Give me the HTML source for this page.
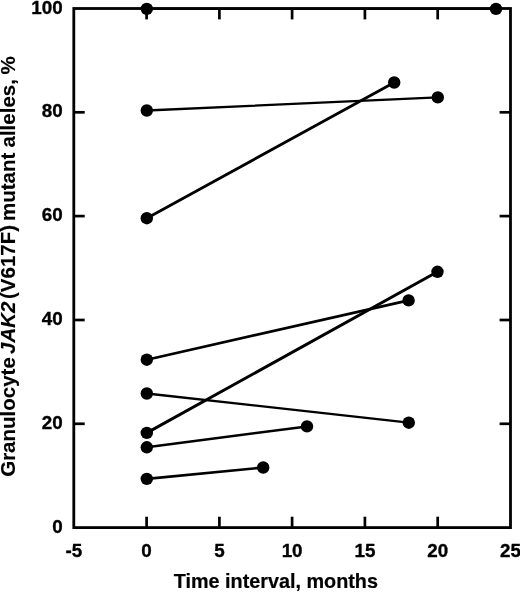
<!DOCTYPE html>
<html lang="en">
<head>
<meta charset="utf-8">
<title>Granulocyte JAK2 (V617F) mutant alleles over time</title>
<style>
html,body{margin:0;padding:0;background:#fff;}
body{width:520px;height:592px;overflow:hidden;}
svg{display:block;}
text{font-family:"Liberation Sans",Arial,Helvetica,sans-serif;font-weight:bold;font-size:18.8px;fill:#000;stroke:#000;stroke-width:0.35;stroke-linejoin:round;}
.ax{stroke:#000;stroke-width:2.8;fill:none;}
.tk{stroke:#000;stroke-width:2.7;fill:none;}
.ln{stroke:#000;fill:none;stroke-linecap:round;}
.pt{fill:#000;}
</style>
</head>
<body>
<svg width="520" height="592" viewBox="0 0 520 592">
<rect x="0" y="0" width="520" height="592" fill="#fff"/>
<rect class="ax" x="73.8" y="8.5" width="436.7" height="519.1"/>
<line class="tk" x1="146.6" y1="527.6" x2="146.6" y2="516.7"/>
<line class="tk" x1="146.6" y1="8.5" x2="146.6" y2="19.4"/>
<line class="tk" x1="219.4" y1="527.6" x2="219.4" y2="516.7"/>
<line class="tk" x1="219.4" y1="8.5" x2="219.4" y2="19.4"/>
<line class="tk" x1="292.1" y1="527.6" x2="292.1" y2="516.7"/>
<line class="tk" x1="292.1" y1="8.5" x2="292.1" y2="19.4"/>
<line class="tk" x1="364.9" y1="527.6" x2="364.9" y2="516.7"/>
<line class="tk" x1="364.9" y1="8.5" x2="364.9" y2="19.4"/>
<line class="tk" x1="437.7" y1="527.6" x2="437.7" y2="516.7"/>
<line class="tk" x1="437.7" y1="8.5" x2="437.7" y2="19.4"/>
<line class="tk" x1="73.8" y1="423.8" x2="84.7" y2="423.8"/>
<line class="tk" x1="510.5" y1="423.8" x2="499.6" y2="423.8"/>
<line class="tk" x1="73.8" y1="320.0" x2="84.7" y2="320.0"/>
<line class="tk" x1="510.5" y1="320.0" x2="499.6" y2="320.0"/>
<line class="tk" x1="73.8" y1="216.1" x2="84.7" y2="216.1"/>
<line class="tk" x1="510.5" y1="216.1" x2="499.6" y2="216.1"/>
<line class="tk" x1="73.8" y1="112.3" x2="84.7" y2="112.3"/>
<line class="tk" x1="510.5" y1="112.3" x2="499.6" y2="112.3"/>
<text x="73.8" y="557.2" text-anchor="middle">-5</text>
<text x="146.6" y="557.2" text-anchor="middle">0</text>
<text x="219.4" y="557.2" text-anchor="middle">5</text>
<text x="292.1" y="557.2" text-anchor="middle">10</text>
<text x="364.9" y="557.2" text-anchor="middle">15</text>
<text x="437.7" y="557.2" text-anchor="middle">20</text>
<text x="510.5" y="557.2" text-anchor="middle">25</text>
<text x="62.6" y="532.7" text-anchor="end">0</text>
<text x="62.6" y="428.9" text-anchor="end">20</text>
<text x="62.6" y="325.1" text-anchor="end">40</text>
<text x="62.6" y="221.2" text-anchor="end">60</text>
<text x="62.6" y="117.4" text-anchor="end">80</text>
<text x="62.6" y="13.6" text-anchor="end">100</text>
<text x="173.8" y="587.8" style="font-size:19.8px;stroke-width:0.2">Time interval, months</text>
<text transform="translate(15.3 476.8) rotate(-90)" x="0" y="0" style="font-size:20.5px;stroke-width:0.15">Granulocyte <tspan font-style="italic" dx="-2.4">JAK2</tspan> <tspan dx="-3.2">(V617F)</tspan> <tspan dx="-1.8">mutant</tspan> <tspan dx="-0.5">alleles,</tspan> <tspan dx="-1.2">%</tspan></text>
<line class="ln" stroke-width="2.2" x1="146.8" y1="8.9" x2="496.0" y2="8.9"/>
<line class="ln" stroke-width="2.3" x1="146.8" y1="110.5" x2="437.8" y2="97.4"/>
<line class="ln" stroke-width="2.8" x1="146.8" y1="218.2" x2="394.2" y2="82.5"/>
<line class="ln" stroke-width="2.7" x1="146.8" y1="359.7" x2="408.6" y2="300.4"/>
<line class="ln" stroke-width="3.0" x1="146.8" y1="432.9" x2="437.5" y2="271.8"/>
<line class="ln" stroke-width="2.3" x1="146.8" y1="393.5" x2="408.8" y2="422.7"/>
<line class="ln" stroke-width="2.5" x1="146.8" y1="447.3" x2="307.0" y2="426.4"/>
<line class="ln" stroke-width="2.6" x1="146.8" y1="478.9" x2="263.2" y2="467.5"/>
<circle class="pt" cx="146.8" cy="8.9" r="6.2"/>
<circle class="pt" cx="496.0" cy="8.9" r="6.2"/>
<circle class="pt" cx="146.8" cy="110.5" r="6.2"/>
<circle class="pt" cx="437.8" cy="97.4" r="6.2"/>
<circle class="pt" cx="146.8" cy="218.2" r="6.2"/>
<circle class="pt" cx="394.2" cy="82.5" r="6.2"/>
<circle class="pt" cx="146.8" cy="359.7" r="6.2"/>
<circle class="pt" cx="408.6" cy="300.4" r="6.2"/>
<circle class="pt" cx="146.8" cy="432.9" r="6.2"/>
<circle class="pt" cx="437.5" cy="271.8" r="6.2"/>
<circle class="pt" cx="146.8" cy="393.5" r="6.2"/>
<circle class="pt" cx="408.8" cy="422.7" r="6.2"/>
<circle class="pt" cx="146.8" cy="447.3" r="6.2"/>
<circle class="pt" cx="307.0" cy="426.4" r="6.2"/>
<circle class="pt" cx="146.8" cy="478.9" r="6.2"/>
<circle class="pt" cx="263.2" cy="467.5" r="6.2"/>
</svg>
</body>
</html>
